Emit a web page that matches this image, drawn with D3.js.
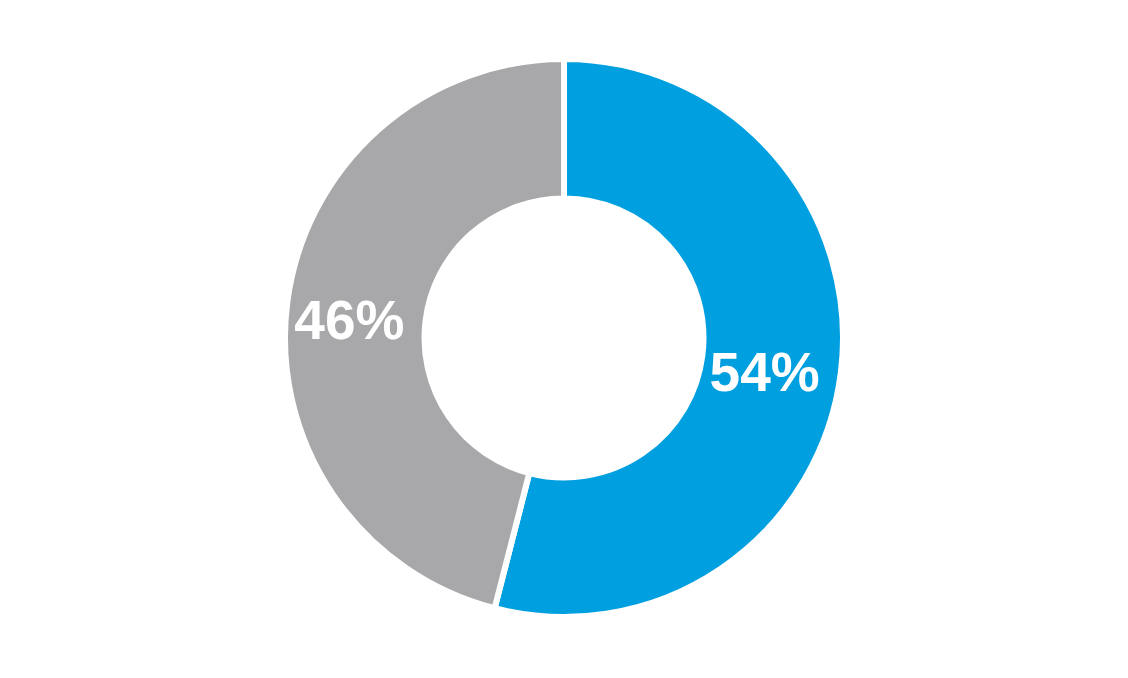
<!DOCTYPE html>
<html><head><meta charset="utf-8">
<script src="https://cdn.jsdelivr.net/npm/d3@7"></script>
<style>html,body{margin:0;padding:0;background:#fff;}</style>
</head><body>
<svg id="chart" width="1128" height="678"></svg>
<script>
const categories = ["A", "B"];
const values = [54, 46];
const labels = ["54%", "46%"];
const colors = ["#009FDF", "#A8A8AA"];

const svg = d3.select("#chart");
const cx = 564, cy = 338, outerR = 279, innerR = 139.5;
const g = svg.append("g").attr("transform", `translate(${cx},${cy})`);
const pie = d3.pie().sort(null).value(d => d.v);
const data = pie(categories.map((c, i) => ({c, v: values[i], label: labels[i], color: colors[i]})));
const arc = d3.arc().innerRadius(innerR).outerRadius(outerR);
g.selectAll("path").data(data).join("path")
  .attr("d", arc).attr("fill", d => d.data.color)
  .attr("stroke", "#fff").attr("stroke-width", 6).attr("stroke-linejoin", "miter");
g.selectAll("text").data(data).join("text")
  .attr("transform", d => { const [x, y] = arc.centroid(d); return `translate(${x - 7},${y + 7})`; })
  .attr("text-anchor", "middle").attr("dy", "0.36em")
  .attr("font-family", "'Liberation Sans', Arial, sans-serif").attr("font-weight", "bold")
  .attr("font-size", 55).attr("fill", "#fff")
  .text(d => d.data.label);
</script>
</body></html>
